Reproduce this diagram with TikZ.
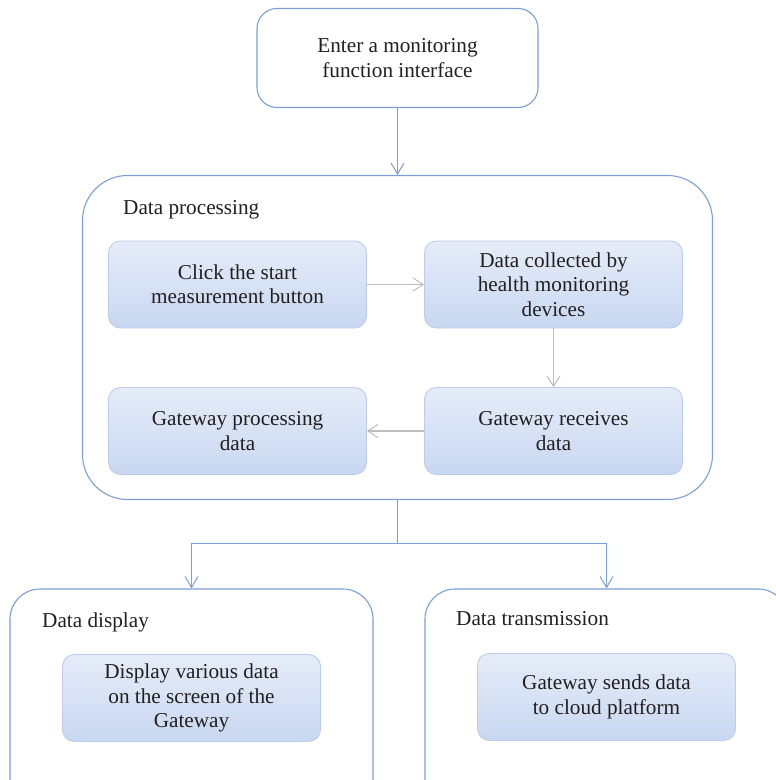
\documentclass[tikz,border=0pt]{standalone}
\usepackage{fontspec}
\setmainfont{Liberation Serif}
\usetikzlibrary{arrows.meta}
\definecolor{bl}{HTML}{7B9FD6}
\definecolor{gr}{HTML}{BDBDBD}
\definecolor{ib}{HTML}{BCCBEC}
\definecolor{tx}{HTML}{231F20}
\definecolor{sT}{HTML}{F5F7FD}
\definecolor{sC}{HTML}{C6D6F0}
\definecolor{sB}{HTML}{D6E0F4}
\pgfdeclareverticalshading{boxshade}{100bp}{color(0bp)=(sB); color(6bp)=(sB); color(22bp)=(sC); color(100bp)=(sT)}
\begin{document}
\begin{tikzpicture}[x=1bp,y=-1bp,
  font=\fontsize{21.3}{24.5}\selectfont, text=tx,
  outer/.style={draw=bl, line width=1.1bp, rounded corners=#1, inner sep=0pt},
  inbox/.style={draw=ib, line width=0.9bp, rounded corners=12bp, shading=boxshade,
    minimum width=258bp, minimum height=87bp, align=center, inner sep=0pt},
  barrow/.style={draw=bl, line width=1.1bp, -{Straight Barb[length=11bp,width=13bp,line width=1bp]}},
  garrow/.style={draw=gr, line width=1.3bp, -{Straight Barb[length=10bp,width=13bp,line width=1bp]}},
  lbl/.style={anchor=base west, inner sep=0pt}]
\useasboundingbox (0,0) rectangle (776,780);
\clip (0,0) rectangle (776,780);
\fill[white] (0,0) rectangle (776,780);

\node[outer=20bp, minimum width=281bp, minimum height=99bp, align=center] (enter) at (397.5,58)
  {Enter a monitoring\\function interface};
\node[outer=45bp, minimum width=630bp, minimum height=324bp] (proc) at (397.5,337.5) {};
\node[lbl] (lproc) at (123,214) {Data processing};

\node[inbox] (click) at (237.5,284.5) {Click the start\\measurement button};
\node[inbox] (collect) at (553.5,284.5) {Data collected by\\health monitoring\\devices};
\node[inbox] (gproc) at (237.5,431) {Gateway processing\\data};
\node[inbox] (grec) at (553.5,431) {Gateway receives\\data};

\node[outer=30bp, minimum width=363bp, minimum height=230bp] (disp) at (191.5,704) {};
\node[outer=30bp, minimum width=363bp, minimum height=230bp] (trans) at (606.5,704) {};
\node[lbl] (ldisp) at (42,627) {Data display};
\node[lbl] (ltrans) at (456,625) {Data transmission};
\node[inbox] (dvar) at (191.5,698) {Display various data\\on the screen of the\\Gateway};
\node[inbox] (gsend) at (606.5,697) {Gateway sends data\\to cloud platform};

\draw[barrow] (enter) -- (proc);
\draw[garrow] (click) -- (collect);
\draw[garrow] (collect) -- (grec);
\draw[garrow] (grec) -- (gproc);

\coordinate (split) at (397.5,543.5);
\draw[draw=bl, line width=1.1bp] (proc.south) -- (split);
\draw[barrow] (split) -| (disp.north);
\draw[barrow] (split) -| (trans.north);
\end{tikzpicture}
\end{document}
